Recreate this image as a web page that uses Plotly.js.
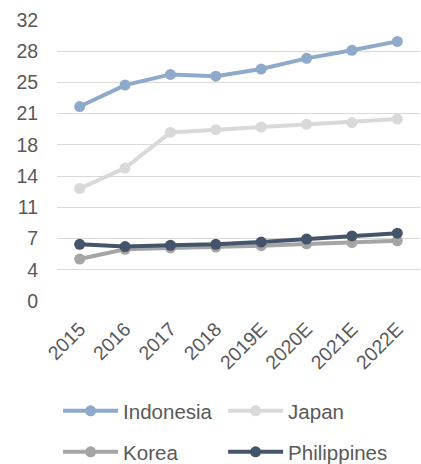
<!DOCTYPE html>
<html>
<head>
<meta charset="utf-8">
<script src="https://cdn.plot.ly/plotly-3.0.1.min.js"></script>
<style>html,body{margin:0;padding:0;background:#fff;}#chart{width:421px;height:464px;}</style>
</head>
<body>
<div id="chart"></div>
<script>
const categories = ["2015","2016","2017","2018","2019E","2020E","2021E","2022E"];
const indonesia = [21.8, 24.2, 25.4, 25.2, 26.0, 27.2, 28.1, 29.1];
const japan = [12.6, 14.9, 18.9, 19.2, 19.5, 19.8, 20.0, 20.4];
const korea = [4.7, 5.8, 5.95, 6.05, 6.2, 6.4, 6.55, 6.75];
const philippines = [6.35, 6.1, 6.25, 6.35, 6.6, 6.95, 7.3, 7.6];
const yTicks = [0, 3.5, 7, 10.5, 14, 17.5, 21, 24.5, 28, 31.5];
const yTickText = ["0","4","7","11","14","18","21","25","28","32"];

const tickFont = {family: "Liberation Sans, Arial, sans-serif", size: 19.5, color: "#595959"};
const legendFont = {family: "Liberation Sans, Arial, sans-serif", size: 20.5, color: "#595959"};
function tr(name, y, color, legend) {
  return {type: "scatter", mode: "lines+markers", name: name, x: categories, y: y,
    line: {color: color, width: 4}, marker: {color: color, size: 11},
    legend: legend, hoverinfo: "skip"};
}
const data = [
  tr("Japan", japan, "#D9D9D9", "legend"),
  tr("Korea", korea, "#A5A5A5", "legend2"),
  tr("Indonesia", indonesia, "#8EA9C9", "legend"),
  tr("Philippines", philippines, "#44546A", "legend2")
];
const plotH = 464 - 20 - 163;
function py(pix) { return (464 - 163 - pix) / plotH; }
const layout = {
  width: 421, height: 464,
  margin: {l: 57, r: 1, t: 20, b: 163, autoexpand: false},
  paper_bgcolor: "#fff", plot_bgcolor: "#fff",
  font: tickFont,
  showlegend: true,
  xaxis: {type: "category", tickangle: -45, tickfont: tickFont, showgrid: false, zeroline: false,
    showline: false, ticks: "outside", ticklen: 8, tickcolor: "rgba(0,0,0,0)", range: [-0.5, 7.5], automargin: false},
  yaxis: {range: [0, 31.5], tickvals: yTicks, ticktext: yTickText, tickfont: tickFont,
    showgrid: true, gridcolor: "#D9D9D9", gridwidth: 1, zeroline: false, showline: false,
    ticks: "outside", ticklen: 14, tickcolor: "rgba(0,0,0,0)", automargin: false},
  legend: {orientation: "h", x: 0.003, xanchor: "left", y: py(411), yanchor: "middle", font: legendFont,
    traceorder: "reversed", entrywidth: 95, itemwidth: 55, bgcolor: "rgba(0,0,0,0)"},
  legend2: {orientation: "h", x: 0.003, xanchor: "left", y: py(452), yanchor: "middle", font: legendFont,
    traceorder: "normal", entrywidth: 95, itemwidth: 55, bgcolor: "rgba(0,0,0,0)"}
};
Plotly.newPlot("chart", data, layout, {staticPlot: true});
</script>
</body>
</html>
